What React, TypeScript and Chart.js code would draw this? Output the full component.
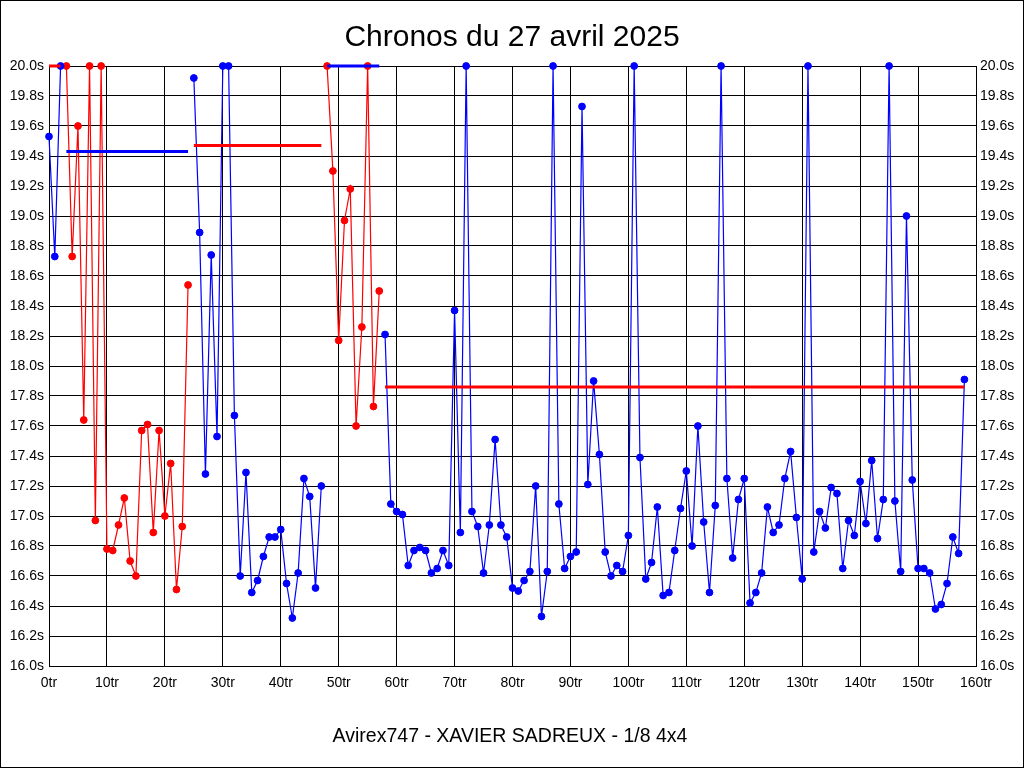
import React, { useEffect, useRef } from "react";
import { Chart, registerables } from "chart.js";

Chart.register(...registerables);

const TITLE = "Chronos du 27 avril 2025";
const SUBTITLE = "Avirex747 - XAVIER SADREUX - 1/8 4x4";

// lap time (s) for each lap, lap index = position in array
const lapTimes = [
  19.53, 18.73, 20.0, 20.0, 18.73, 19.6, 17.64, 20.0, 16.97, 20.0,
  16.78, 16.77, 16.94, 17.12, 16.7, 16.6, 17.57, 17.61, 16.89, 17.57,
  17.0, 17.35, 16.51, 16.93, 18.54, 19.92, 18.89, 17.28, 18.74, 17.53,
  20.0, 20.0, 17.67, 16.6, 17.29, 16.49, 16.57, 16.73, 16.86, 16.86,
  16.91, 16.55, 16.32, 16.62, 17.25, 17.13, 16.52, 17.2, 20.0, 19.3,
  18.17, 18.97, 19.18, 17.6, 18.26, 20.0, 17.73, 18.5, 18.21, 17.08,
  17.03, 17.01, 16.67, 16.77, 16.79, 16.77, 16.62, 16.65, 16.77, 16.67,
  18.37, 16.89, 20.0, 17.03, 16.93, 16.62, 16.94, 17.51, 16.94, 16.86,
  16.52, 16.5, 16.57, 16.63, 17.2, 16.33, 16.63, 20.0, 17.08, 16.65,
  16.73, 16.76, 19.73, 17.21, 17.9, 17.41, 16.76, 16.6, 16.67, 16.63,
  16.87, 20.0, 17.39, 16.58, 16.69, 17.06, 16.47, 16.49, 16.77, 17.05,
  17.3, 16.8, 17.6, 16.96, 16.49, 17.07, 20.0, 17.25, 16.72, 17.11,
  17.25, 16.42, 16.49, 16.62, 17.06, 16.89, 16.94, 17.25, 17.43, 16.99,
  16.58, 20.0, 16.76, 17.03, 16.92, 17.19, 17.15, 16.65, 16.97, 16.87,
  17.23, 16.95, 17.37, 16.85, 17.11, 20.0, 17.1, 16.63, 19.0, 17.24,
  16.65, 16.65, 16.62, 16.38, 16.41, 16.55, 16.86, 16.75, 17.91,
];

// driving segments (first and last lap of each), with their colour
const segmentStarts = [0, 3, 25, 48, 58];
const segmentEnds = [2, 24, 47, 57, 158];
const segmentColors = ["#0000ff", "#ff0000", "#0000ff", "#ff0000", "#0000ff"];

// reference (average) lines drawn over each segment
const refValues = [20.0, 19.43, 19.47, 20.0, 17.86];
const refColors = ["#ff0000", "#0000ff", "#ff0000", "#0000ff", "#ff0000"];

const xTickValues = [0, 10, 20, 30, 40, 50, 60, 70, 80, 90, 100, 110, 120, 130, 140, 150, 160];
const yTickValues = [
  16.0, 16.2, 16.4, 16.6, 16.8, 17.0, 17.2, 17.4, 17.6, 17.8, 18.0,
  18.2, 18.4, 18.6, 18.8, 19.0, 19.2, 19.4, 19.6, 19.8, 20.0,
];

const FONT = "'Liberation Sans', Arial, sans-serif";

export default function App() {
  const ref = useRef<HTMLCanvasElement | null>(null);

  useEffect(() => {
    if (!ref.current) return;

    const dataSets: any[] = [];
    segmentStarts.forEach((s, i) => {
      const e = segmentEnds[i];
      dataSets.push({
        label: "seg" + i,
        data: lapTimes.slice(s, e + 1).map((v, k) => ({ x: s + k, y: v })),
        borderColor: segmentColors[i],
        backgroundColor: segmentColors[i],
        pointBackgroundColor: segmentColors[i],
        pointBorderColor: segmentColors[i],
        borderWidth: 1.2,
        pointRadius: 3.4,
        pointBorderWidth: 1,
        tension: 0,
        clip: false,
        order: 2,
        yAxisID: "y",
      });
    });
    segmentStarts.forEach((s, i) => {
      dataSets.push({
        label: "ref" + i,
        data: [
          { x: s, y: refValues[i] },
          { x: segmentEnds[i], y: refValues[i] },
        ],
        borderColor: refColors[i],
        backgroundColor: refColors[i],
        borderWidth: 3,
        borderCapStyle: "butt",
        pointRadius: 0,
        clip: false,
        order: 1,
        yAxisID: "y",
      });
    });

    const framePlugin = {
      id: "framePlugin",
      beforeDraw(chart: any) {
        const c = chart.ctx;
        c.save();
        c.fillStyle = "#ffffff";
        c.fillRect(0, 0, chart.width, chart.height);
        c.restore();
      },
      afterDraw(chart: any) {
        const c = chart.ctx;
        c.save();
        c.strokeStyle = "#000000";
        c.lineWidth = 1;
        c.strokeRect(0.5, 0.5, chart.width - 1, chart.height - 1);
        c.fillStyle = "#000000";
        c.textAlign = "center";
        c.textBaseline = "alphabetic";
        c.font = "30px " + FONT;
        c.fillText(TITLE, 512, 46);
        c.font = "19.5px " + FONT;
        c.fillText(SUBTITLE, 510, 742);
        c.restore();
      },
    };

    const tickFont = { family: FONT, size: 14 };

    const chart = new Chart(ref.current, {
      type: "line",
      data: { datasets: dataSets },
      options: {
        animation: false,
        responsive: false,
        devicePixelRatio: 1,
        layout: { padding: { top: 66, left: 0, right: 0, bottom: 0 } },
        plugins: {
          legend: { display: false },
          title: { display: false },
          tooltip: { enabled: false },
        },
        scales: {
          x: {
            type: "linear",
            min: 0,
            max: 160,
            offset: false,
            afterBuildTicks: (s: any) => {
              s.ticks = xTickValues.map((v) => ({ value: v }));
            },
            afterFit: (s: any) => {
              s.height = 102;
            },
            grid: { color: "#000000", lineWidth: 1, drawTicks: false },
            border: { display: true, color: "#000000", width: 1 },
            ticks: {
              color: "#000000",
              font: tickFont,
              padding: 9,
              maxRotation: 0,
              autoSkip: false,
              callback: (v: any) => v + "tr",
            },
          },
          y: {
            type: "linear",
            position: "left",
            min: 16,
            max: 20,
            afterBuildTicks: (s: any) => {
              s.ticks = yTickValues.map((v) => ({ value: v }));
            },
            afterFit: (s: any) => {
              s.width = 49;
            },
            grid: { color: "#000000", lineWidth: 1, drawTicks: false },
            border: { display: true, color: "#000000", width: 1 },
            ticks: {
              color: "#000000",
              font: tickFont,
              padding: 5,
              autoSkip: false,
              callback: (v: any) => Number(v).toFixed(1) + "s",
            },
          },
          y2: {
            type: "linear",
            position: "right",
            display: true,
            min: 16,
            max: 20,
            afterBuildTicks: (s: any) => {
              s.ticks = yTickValues.map((v) => ({ value: v }));
            },
            afterFit: (s: any) => {
              s.width = 48;
            },
            grid: { display: false, drawTicks: false },
            border: { display: true, color: "#000000", width: 1 },
            ticks: {
              color: "#000000",
              font: tickFont,
              padding: 4,
              autoSkip: false,
              callback: (v: any) => Number(v).toFixed(1) + "s",
            },
          },
        },
      },
      plugins: [framePlugin],
    });

    return () => {
      chart.destroy();
    };
  }, []);

  return (
    <div style={{ position: "absolute", left: 0, top: 0, width: 1024, height: 768 }}>
      <canvas ref={ref} width={1024} height={768} style={{ display: "block", width: 1024, height: 768 }} />
    </div>
  );
}
